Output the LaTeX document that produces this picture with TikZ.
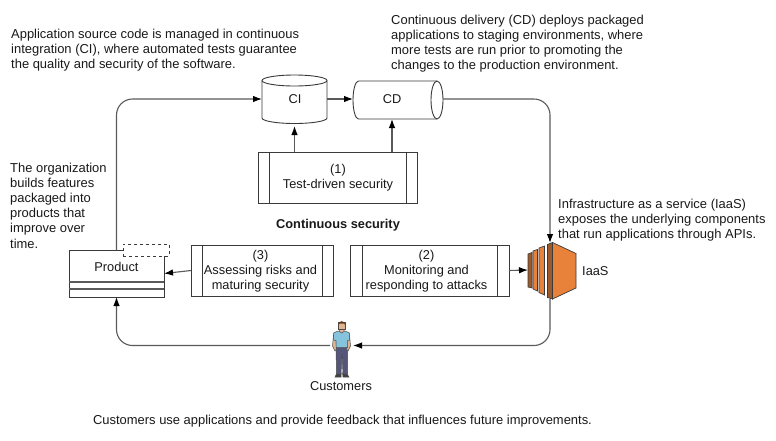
\documentclass[tikz,border=0pt]{standalone}
\usepackage{fontspec}
\setmainfont{Liberation Sans}
\usetikzlibrary{shapes.geometric,arrows.meta}
\definecolor{linegray}{HTML}{5A5A5A}
\definecolor{boxline}{HTML}{3A3A3A}
\definecolor{iaasor}{HTML}{E8813A}
\definecolor{iaasdk}{HTML}{9C5A2C}
\definecolor{shirt}{HTML}{86C3DC}
\definecolor{pants}{HTML}{55567A}
\definecolor{hair}{HTML}{5B3A22}
\definecolor{skin}{HTML}{E0B48E}
\tikzset{
 txt/.style={font=\fontsize{12.95}{15.2}\selectfont,align=left,inner sep=0pt,text=black!90},
 ctxt/.style={font=\fontsize{12.8}{15}\selectfont,align=center,inner sep=0pt,text=black!90},
 conn/.style={draw=linegray,line width=1.1pt},
 arr/.style={conn,-{Latex[length=9pt,width=6.5pt,black]}},
 boxshape/.style={draw=boxline,line width=0.9pt,fill=white,inner sep=0pt,outer sep=0pt,minimum height=51pt},
 inner/.style={draw=boxline,line width=0.9pt},
 cyl/.style={draw=boxline,line width=0.9pt,fill=white},
 anchorbox/.style={inner sep=0pt,outer sep=0pt},
}
\begin{document}
\begin{tikzpicture}[x=1pt,y=-1pt]
\useasboundingbox[fill=white] (0,0) rectangle (776,440);
% texts
\node[txt,anchor=north west] (t1) at (11,29) {Application source code is managed in continuous\\integration (CI), where automated tests guarantee\\the quality and security of the software.};
\node[txt,anchor=north west] (t2) at (391,14.5) {Continuous delivery (CD) deploys packaged\\applications to staging environments, where\\more tests are run prior to promoting the\\changes to the production environment.};
\node[txt,anchor=north west] (t3) at (10,162.5) {The organization\\builds features\\packaged into\\products that\\improve over\\time.};
\node[txt,anchor=north west] (t4) at (558,198.5) {Infrastructure as a service (IaaS)\\exposes the underlying components\\that run applications through APIs.};
\node[txt,anchor=center] (t5) at (342.5,421.5) {Customers use applications and provide feedback that influences future improvements.};
\node[txt,anchor=center,font=\fontsize{12.8}{15}\selectfont\bfseries] (t6) at (338,225) {Continuous security};
% CI cylinder
\draw[cyl] (262,80.5) -- (262,118) .. controls (262,121) and (276.5,123.5) .. (294.5,123.5) .. controls (312.5,123.5) and (327,121) .. (327,118) -- (327,80.5) .. controls (327,77.5) and (312.5,75) .. (294.5,75) .. controls (276.5,75) and (262,77.5) .. (262,80.5) -- cycle;
\draw[cyl,fill=none] (262,80.5) .. controls (262,83.5) and (276.5,86) .. (294.5,86) .. controls (312.5,86) and (327,83.5) .. (327,80.5);
\node[anchorbox,minimum width=65pt,minimum height=48pt] (CI) at (294.5,99) {};
\node[ctxt] (CItxt) at (295,99.5) {CI};
% CD cylinder
\draw[cyl] (358.5,81) -- (437,81) .. controls (440.3,81) and (443,89.5) .. (443,100) .. controls (443,110.5) and (440.3,119) .. (437,119) -- (358.5,119) .. controls (355.5,119) and (353,110.5) .. (353,100) .. controls (353,89.5) and (355.5,81) .. (358.5,81) -- cycle;
\draw[cyl,fill=none] (437,81) .. controls (433.7,81) and (431,89.5) .. (431,100) .. controls (431,110.5) and (433.7,119) .. (437,119);
\node[anchorbox,minimum width=90pt,minimum height=38pt] (CD) at (398,99) {};
\node[ctxt] (CDtxt) at (392,99.5) {CD};
% process boxes
\node[boxshape,minimum width=159pt] (B1) at (337.5,177.5) {};
\draw[inner] (269,152) -- (269,203) (406,152) -- (406,203);
\node[ctxt] (B1txt) at (338,177.5) {(1)\\Test-driven security};
\node[boxshape,minimum width=142pt] (B3) at (262,270.5) {};
\draw[inner] (202,245) -- (202,296) (322,245) -- (322,296);
\node[ctxt] (B3txt) at (260.5,271) {(3)\\Assessing risks and\\maturing security};
\node[boxshape,minimum width=159pt] (B2) at (429.5,270.5) {};
\draw[inner] (362,245) -- (362,296) (497,245) -- (497,296);
\node[ctxt] (B2txt) at (426.5,271) {(2)\\Monitoring and\\responding to attacks};
% product
\node[draw=boxline,line width=0.9pt,fill=white,inner sep=0pt,outer sep=0pt,minimum width=95pt,minimum height=47pt] (P) at (116.5,273.5) {};
\draw[draw=linegray,line width=1.1pt] (69,282) -- (164,282) (69,289) -- (164,289);
\node[ctxt] (Ptxt) at (116.5,266.5) {Product};
\node[draw=boxline,dashed,line width=0.8pt,fill=white,inner sep=0pt,minimum width=46pt,minimum height=12pt] (Pd) at (146,250) {};
% IaaS
\coordinate (Itop) at (550,243);
\coordinate (Ibot) at (550,299);
\coordinate (Iwest) at (528,270);
\draw[boxline,line width=0.7pt,fill=iaasdk] (528,254) -- (532,252.5) -- (532,288) -- (528,287) -- cycle;
\draw[boxline,line width=0.7pt,fill=iaasor] (533,251) -- (537.5,249.5) -- (537.5,291) -- (533,289) -- cycle;
\draw[boxline,line width=0.7pt,fill=iaasor] (539,248) -- (544.5,246) -- (544.5,295) -- (539,292.5) -- cycle;
\draw[boxline,line width=0.7pt,fill=iaasdk] (547.5,244.5) -- (552.5,242.5) -- (552.5,299) -- (547.5,297.5) -- cycle;
\draw[boxline,line width=0.7pt,fill=iaasor] (552.5,242.5) -- (576,253.5) -- (576,288) -- (552.5,299) -- cycle;
\node[ctxt,anchor=west] (Itxt) at (582,271.5) {IaaS};
% person
\node[anchorbox,minimum width=23pt,minimum height=56pt] (C) at (341.5,345.5) {};
\begin{scope}[line width=0.5pt,draw=black!70]
\draw[fill=black!75] (336.5,374) -- (341,373) -- (341,377) -- (335,377) -- cycle;
\draw[fill=black!75] (342.5,373) -- (347,374) -- (349,377) -- (343,377) -- cycle;
\draw[fill=pants] (336,347) -- (347.5,347) -- (347.5,374) -- (343,374) -- (342,354) -- (341,374) -- (336.5,374) -- cycle;
\draw[fill=skin] (333.5,335) -- (332.5,346) -- (335,351) -- (336.5,349) -- (336,340) -- cycle;
\draw[fill=skin] (349.5,335) -- (350.5,346) -- (348,351) -- (346.5,349) -- (347,340) -- cycle;
\draw[fill=shirt] (338,331) -- (345,331) -- (349.5,333) -- (349.5,340) -- (347.5,340.5) -- (347.5,347.5) -- (336,347.5) -- (336,340.5) -- (333.5,340) -- (333.5,333) -- cycle;
\draw[fill=skin] (339.5,327) -- (344,327) -- (344,331.5) -- (341.7,333) -- (339.5,331.5) -- cycle;
\draw[fill=skin] (338.5,322) rectangle (345,329);
\fill[hair] (338,325.5) .. controls (337.5,320) and (345.5,319.5) .. (345.5,325.5) -- (344,323.5) -- (339.5,323.5) -- cycle;
\end{scope}
\node[ctxt] (Ctxt) at (341,386.5) {Customers};
% connectors
\draw[arr,rounded corners=16pt] (P.north) |- (CI.west);
\draw[arr] (CI.east) -- (CD.west);
\draw[arr,rounded corners=16pt] (CD.east) -| (Itop);
\draw[arr] (B1.north -| CI) -- ++(0,-26);
\draw[arr] (B1.north -| 392,0) -- ++(0,-33);
\draw[arr] (B3.west) -- (P.east);
\draw[arr] (B2.east) -- (Iwest);
\draw[arr,rounded corners=16pt] (Ibot) |- (C.east);
\draw[arr,rounded corners=16pt] (C.west) -| (P.south);
\end{tikzpicture}
\end{document}
